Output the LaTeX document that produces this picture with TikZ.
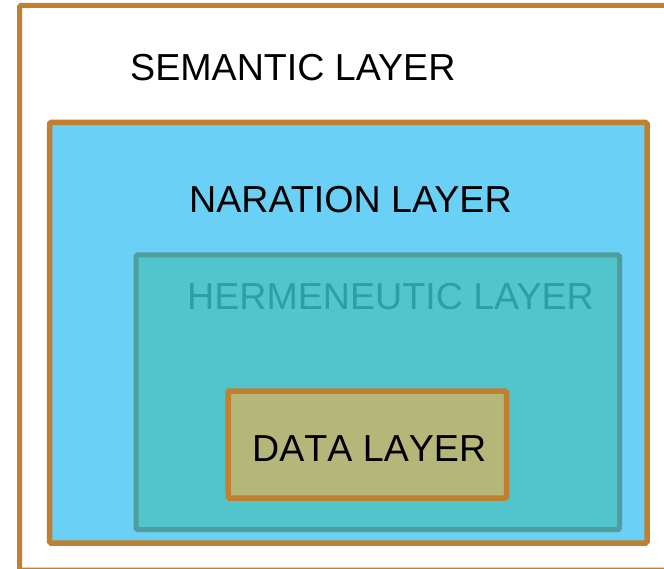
\documentclass[tikz,border=0pt]{standalone}
\usepackage{fontspec}
\setmainfont{Liberation Sans}
\definecolor{borderorange}{RGB}{192,128,48}
\definecolor{narblue}{RGB}{106,208,245}
\definecolor{hermfill}{RGB}{82,196,203}
\definecolor{hermborder}{RGB}{78,158,158}
\definecolor{hermtext}{RGB}{42,160,166}
\definecolor{datafill}{RGB}{181,182,122}
\begin{document}
\begin{tikzpicture}[x=1pt,y=-1pt,
  layerbox/.style={rectangle, inner sep=0pt, outer sep=0pt, rounded corners=1.5pt, line width=5pt},
  layerlabel/.style={anchor=base west, inner sep=0pt, font=\fontsize{37.6}{40}\selectfont}]
\useasboundingbox (0,0) rectangle (664,569);
\clip (0,0) rectangle (664,569);
\fill[white] (0,0) rectangle (664,569);
\node[layerbox, draw=borderorange, fill=white, minimum width=648.5pt, minimum height=564.5pt] (semantic) at (343.75,287.75) {};
\node[layerbox, draw=borderorange, fill=narblue, line width=5.5pt, minimum width=597.5pt, minimum height=420.5pt] (naration) at (348.25,332.75) {};
\node[layerbox, draw=hermborder, fill=hermfill, minimum width=483.5pt, minimum height=274.5pt] (herm) at (377.75,392.25) {};
\node[layerbox, draw=borderorange, fill=datafill, line width=5.5pt, minimum width=278.5pt, minimum height=107pt] (data) at (367.25,444.5) {};
\node[layerlabel] (semtext) at (130,80.7) {SEMANTIC LAYER};
\node[layerlabel] (nartext) at (189,212.3) {NARATION LAYER};
\node[layerlabel, text=hermtext] (hermtext) at (187,309.3) {HERMENEUTIC LAYER};
\node[layerlabel] (datatext) at (252,461.7) {\addfontfeatures{Kerning=Off}DATA LAYER};
\end{tikzpicture}
\end{document}
